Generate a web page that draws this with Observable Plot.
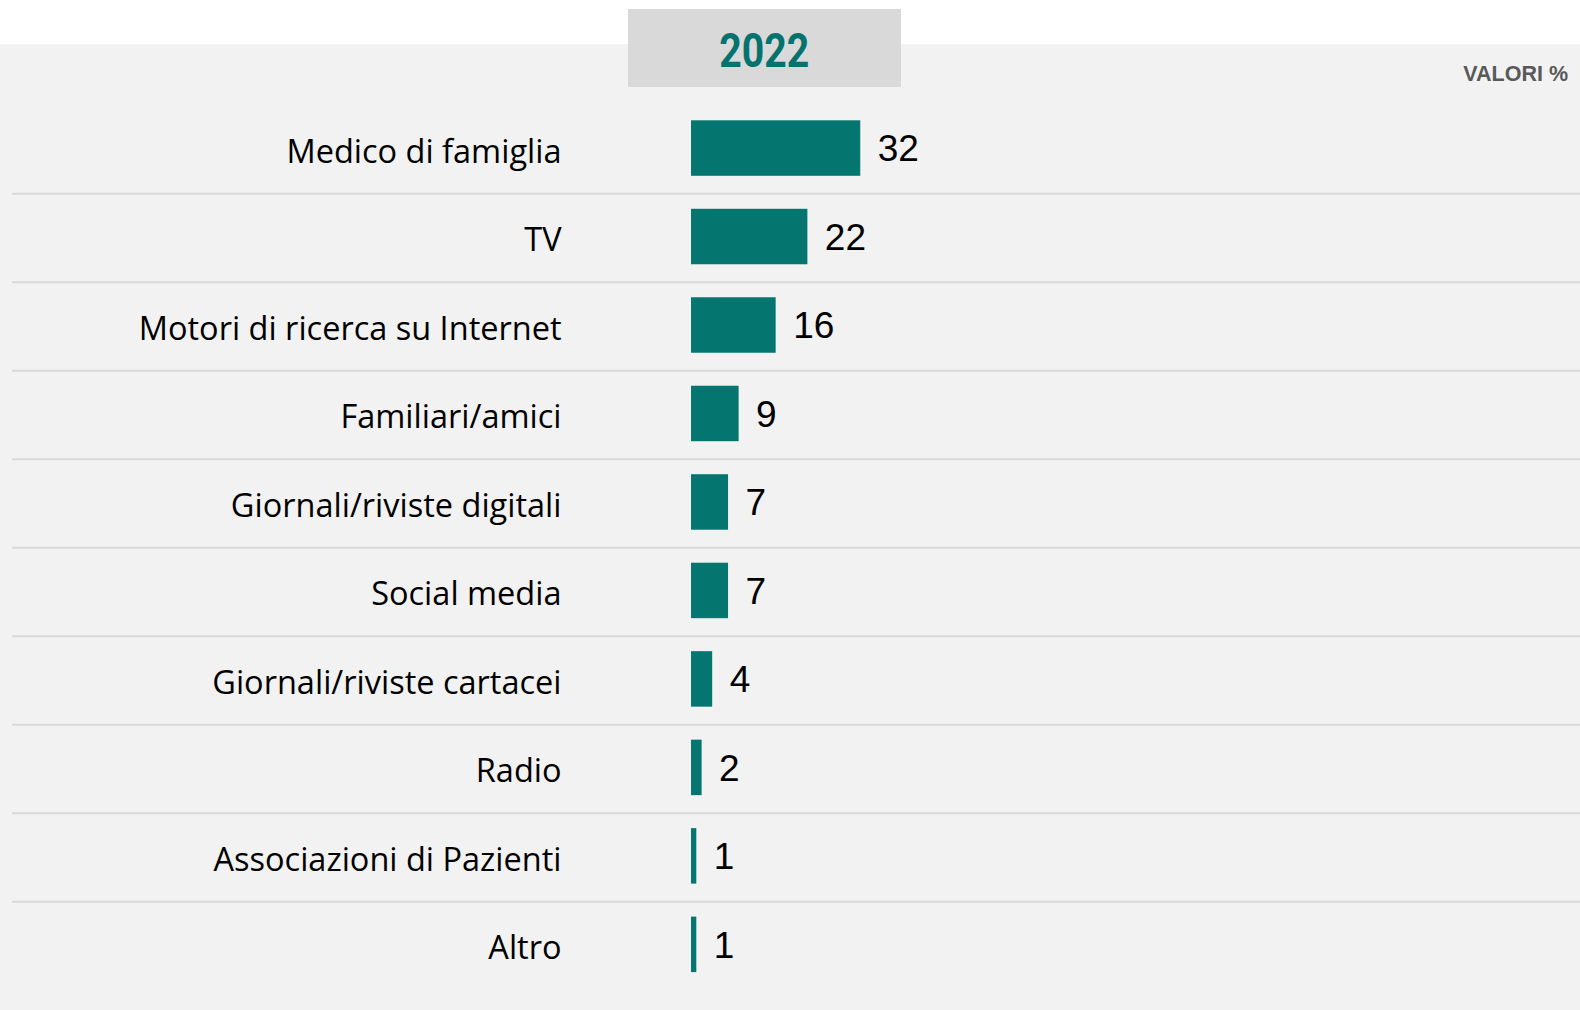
<!DOCTYPE html>
<html>
<head>
<meta charset="utf-8">
<script src="https://cdn.jsdelivr.net/npm/d3@7"></script>
<script src="https://cdn.jsdelivr.net/npm/@observablehq/plot@0.6"></script>
<style>
  html, body { margin: 0; padding: 0; background: #ffffff; }
  #wrap { position: relative; width: 1580px; height: 1010px; overflow: hidden; }
  #bg { position: absolute; left: 0; top: 44px; width: 1580px; height: 966px; background: #f2f2f2; }
  #yearbox { position: absolute; left: 628px; top: 9px; width: 273px; height: 78px; background: #d9d9d9;
             display: flex; align-items: center; justify-content: center; }
  #yearbox span { font-family: Roboto, "Liberation Sans", sans-serif; font-weight: 700; font-size: 49px;
                  color: #04736e; display: inline-block; transform: scaleX(0.8); line-height: 1; margin-top: 5px; }
  #unit { position: absolute; right: 12px; top: 62px; font-family: "Liberation Sans", Arial, sans-serif;
          font-weight: 700; font-size: 21.5px; color: #595959; }
  #chart { position: absolute; left: 0; top: 0; }
</style>
</head>
<body>
<div id="wrap">
  <div id="bg"></div>
  <div id="yearbox"><span id="year"></span></div>
  <div id="unit"></div>
  <div id="chart"></div>
</div>
<script>
const year = "2022";
const unitLabel = "VALORI %";
const categories = [
  "Medico di famiglia",
  "TV",
  "Motori di ricerca su Internet",
  "Familiari/amici",
  "Giornali/riviste digitali",
  "Social media",
  "Giornali/riviste cartacei",
  "Radio",
  "Associazioni di Pazienti",
  "Altro"
];
const values = [32, 22, 16, 9, 7, 7, 4, 2, 1, 1];

document.getElementById("year").textContent = year;
document.getElementById("unit").textContent = unitLabel;

const data = categories.map((c, i) => ({category: c, value: values[i]}));
const teal = "#04756f";

const chart = Plot.plot({
  width: 1580,
  height: 1010,
  marginLeft: 12,
  marginRight: 0,
  marginTop: 0,
  marginBottom: 0,
  style: {background: "transparent", overflow: "visible"},
  x: {domain: [-128.4, 168.1], axis: null},
  y: {domain: categories, range: [87.3, 1005.1], padding: 0.373, round: false, axis: null},
  marks: [
    Plot.ruleY(categories.slice(0, -1), {y: d => d, dy: 45.3, stroke: "#d9d9d9", strokeWidth: 2}),
    Plot.barX(data, {y: "category", x1: 0, x2: "value", fill: teal}),
    Plot.text(data, {y: "category", x: 0, text: "category", textAnchor: "end", dx: -130, dy: 4,
      fontFamily: "'Open Sans', sans-serif", fontSize: 32.5, fill: "#000"}),
    Plot.text(data, {y: "category", x: "value", text: d => String(d.value), textAnchor: "start", dx: 17, dy: 1,
      fontFamily: "'Liberation Sans', Arial, sans-serif", fontSize: 37, fill: "#000"})
  ]
});
document.getElementById("chart").appendChild(chart);
</script>
</body>
</html>
